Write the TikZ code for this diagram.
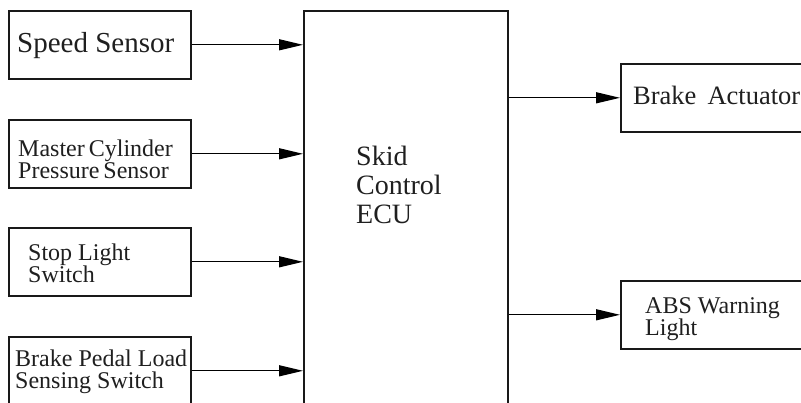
\documentclass[tikz,border=0pt]{standalone}
\usepackage{fontspec}
\setmainfont{Liberation Serif}
\usetikzlibrary{arrows.meta,calc}
\lineskiplimit=-20pt
\begin{document}
\begin{tikzpicture}[x=1pt,y=-1pt,
  box/.style={draw=black!90, line width=1.6pt, minimum width=182pt, minimum height=68pt, anchor=north west, inner sep=0pt},
  lbl/.style={anchor=west, align=left, inner sep=0pt, text=black!88},
  arr/.style={line width=1.3pt, -{Triangle[length=24pt,width=11pt]}},
  big/.style={font=\fontsize{29}{31}\selectfont},
  med/.style={font=\fontsize{24}{22}\selectfont},
  ecuf/.style={font=\fontsize{28}{29}\selectfont}
]
\useasboundingbox (0,0) rectangle (801,402);
\clip (0,0) rectangle (801,402);
% boxes
\node[box] (ss) at (8,10) {};
\node[box] (mc) at (8,119) {};
\node[box] (sl) at (8,227) {};
\node[box] (bp) at (8,336) {};
\node[box, line width=1.8pt, minimum width=204pt, minimum height=420pt] (ecu) at (303,10) {};
\node[box] (ba) at (620,63) {};
\node[box] (abs) at (620,280) {};
% labels
\node[lbl, big] (sst) at ($(ss.west)+(9,1)$) {Speed Sensor};
\node[lbl, med] (mct) at ($(mc.west)+(10,5.4)$) {Master\,Cylinder\\Pressure\,Sensor};
\node[lbl, med] (slt) at ($(sl.west)+(20,1.3)$) {Stop Light\\Switch};
\node[lbl, med] (bpt) at ($(bp.west)+(7,1.4)$) {Brake Pedal Load\\Sensing Switch};
\node[lbl, font=\fontsize{26.5}{28}\selectfont] (bat) at ($(ba.west)+(13,-2)$) {Brake\, Actuator};
\node[lbl, med] (abst) at ($(abs.west)+(25,4.4)$) {ABS Warning\\Light};
\node[lbl, ecuf] (ecut) at (356,184.5) {Skid\\Control\\ECU};
% connectors
\draw[arr] (ss.east) -- (ss.east -| ecu.west);
\draw[arr] (mc.east) -- (mc.east -| ecu.west);
\draw[arr] (sl.east) -- (sl.east -| ecu.west);
\draw[arr] (bp.east) -- (bp.east -| ecu.west);
\draw[arr] (ecu.east |- ba.west) -- (ba.west);
\draw[arr] (ecu.east |- abs.west) -- (abs.west);
\end{tikzpicture}
\end{document}
